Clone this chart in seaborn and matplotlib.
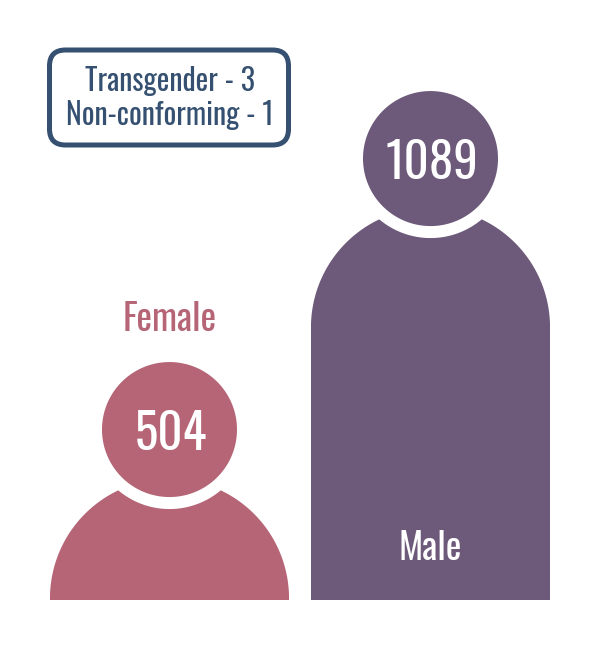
import numpy as np
import seaborn as sns
import matplotlib.pyplot as plt
from matplotlib.patches import FancyBboxPatch
from matplotlib.path import Path
from matplotlib.transforms import Affine2D

genders = ["Female", "Male"]
counts = [504, 1089]
colors = ["#B56576", "#6D597A"]
other_genders = ["Transgender", "Non-conforming"]
other_counts = [3, 1]
navy = "#355070"

sns.set_theme(style="white")
plt.rcParams['font.family'] = ['Oswald', 'DejaVu Sans']

W = 600; H = 650
fig = plt.figure(figsize=(W / 100, H / 100), dpi=100, facecolor="white")

# bars sit on the pixel row 600, the silhouette is cut out of each of them
ax = fig.add_axes([0, (H - 600) / H, 1, 600 / H])
sns.barplot(x=genders, y=counts, hue=genders, palette=colors, order=genders,
            hue_order=genders, width=0.916, saturation=1, legend=False, ax=ax)
ax.set_xlim(-169.5 / 261, (600 - 169.5) / 261)
y_low = -9.7
ax.set_ylim(y_low, 1285.6)
ax.axis("off")

head_r = 67.5
ring_r = 79.5
neck = 168.8
to_display = Affine2D().scale(1, -1).translate(0, H)


def person_path(cx, top, half_w, base=600):
    hy = top + head_r
    dy = hy + neck
    t = np.linspace(0, 2 * np.pi, 240)
    head = Path(np.column_stack([cx + head_r * np.cos(t), hy + head_r * np.sin(t)]), closed=True)

    # where the shoulder circle meets the white ring under the head
    tip_y = (ring_r**2 - half_w**2 + neck**2) / (2 * neck)
    tip_x = np.sqrt(ring_r**2 - tip_y**2)
    a1 = np.arctan2(dy - (hy + tip_y), tip_x)
    left = np.linspace(np.pi, np.pi - a1, 80)
    right = np.linspace(a1, 0, 80)
    b = np.arctan2(tip_y, tip_x)
    ring = np.linspace(np.pi - b, b, 80)
    pts = [(cx - half_w, base)]
    pts += list(zip(cx + half_w * np.cos(left), dy - half_w * np.sin(left)))
    pts += list(zip(cx + ring_r * np.cos(ring), hy + ring_r * np.sin(ring)))
    pts += list(zip(cx + half_w * np.cos(right), dy - half_w * np.sin(right)))
    pts += [(cx + half_w, base), (cx - half_w, base)]
    body = Path(np.array(pts), closed=True)
    return Path.make_compound_path(head, body)


fig.canvas.draw()
tops = {}
for bar, name in zip(ax.patches, genders):
    x0, y0 = ax.transData.transform((bar.get_x(), bar.get_height()))
    x1, _ = ax.transData.transform((bar.get_x() + bar.get_width(), bar.get_height()))
    cx = (x0 + x1) / 2
    top = H - y0
    tops[name] = (cx, top)
    # run the bar down to the bottom edge of the axes
    bar.set_height(bar.get_height() - y_low)
    bar.set_y(y_low)
    bar.set_linewidth(0)
    bar.set_clip_path(person_path(cx, top, (x1 - x0) / 2), to_display)

# overlay in pixels for the labels and the box
ov = fig.add_axes([0, 0, 1, 1], zorder=5)
ov.set_xlim(0, W)
ov.set_ylim(H, 0)
ov.axis("off")
ov.patch.set_alpha(0)

for name, n in zip(genders, counts):
    cx, top = tops[name]
    ov.text(cx + 1, top + head_r, str(n), color="white", fontsize=35.2, ha="center", va="center_baseline")

fx, _ = tops["Female"]
ov.text(fx, 316, "Female", color=colors[0], fontsize=26.5, ha="center", va="center_baseline")
mx, _ = tops["Male"]
ov.text(mx, 545.5, "Male", color="white", fontsize=26.5, ha="center", va="center_baseline")

ov.add_patch(FancyBboxPatch((49.5 + 16, 50 + 16), 239 - 32, 95 - 32,
                            boxstyle="round,pad=16,rounding_size=16",
                            fc="white", ec=navy, lw=3.6))
for i, (name, n) in enumerate(zip(other_genders, other_counts)):
    ov.text(170, 78 + i * 35, f"{name} - {n}", color=navy, fontsize=21.5, ha="center", va="center_baseline")

fig.savefig("out.png", dpi=100, facecolor="white")
